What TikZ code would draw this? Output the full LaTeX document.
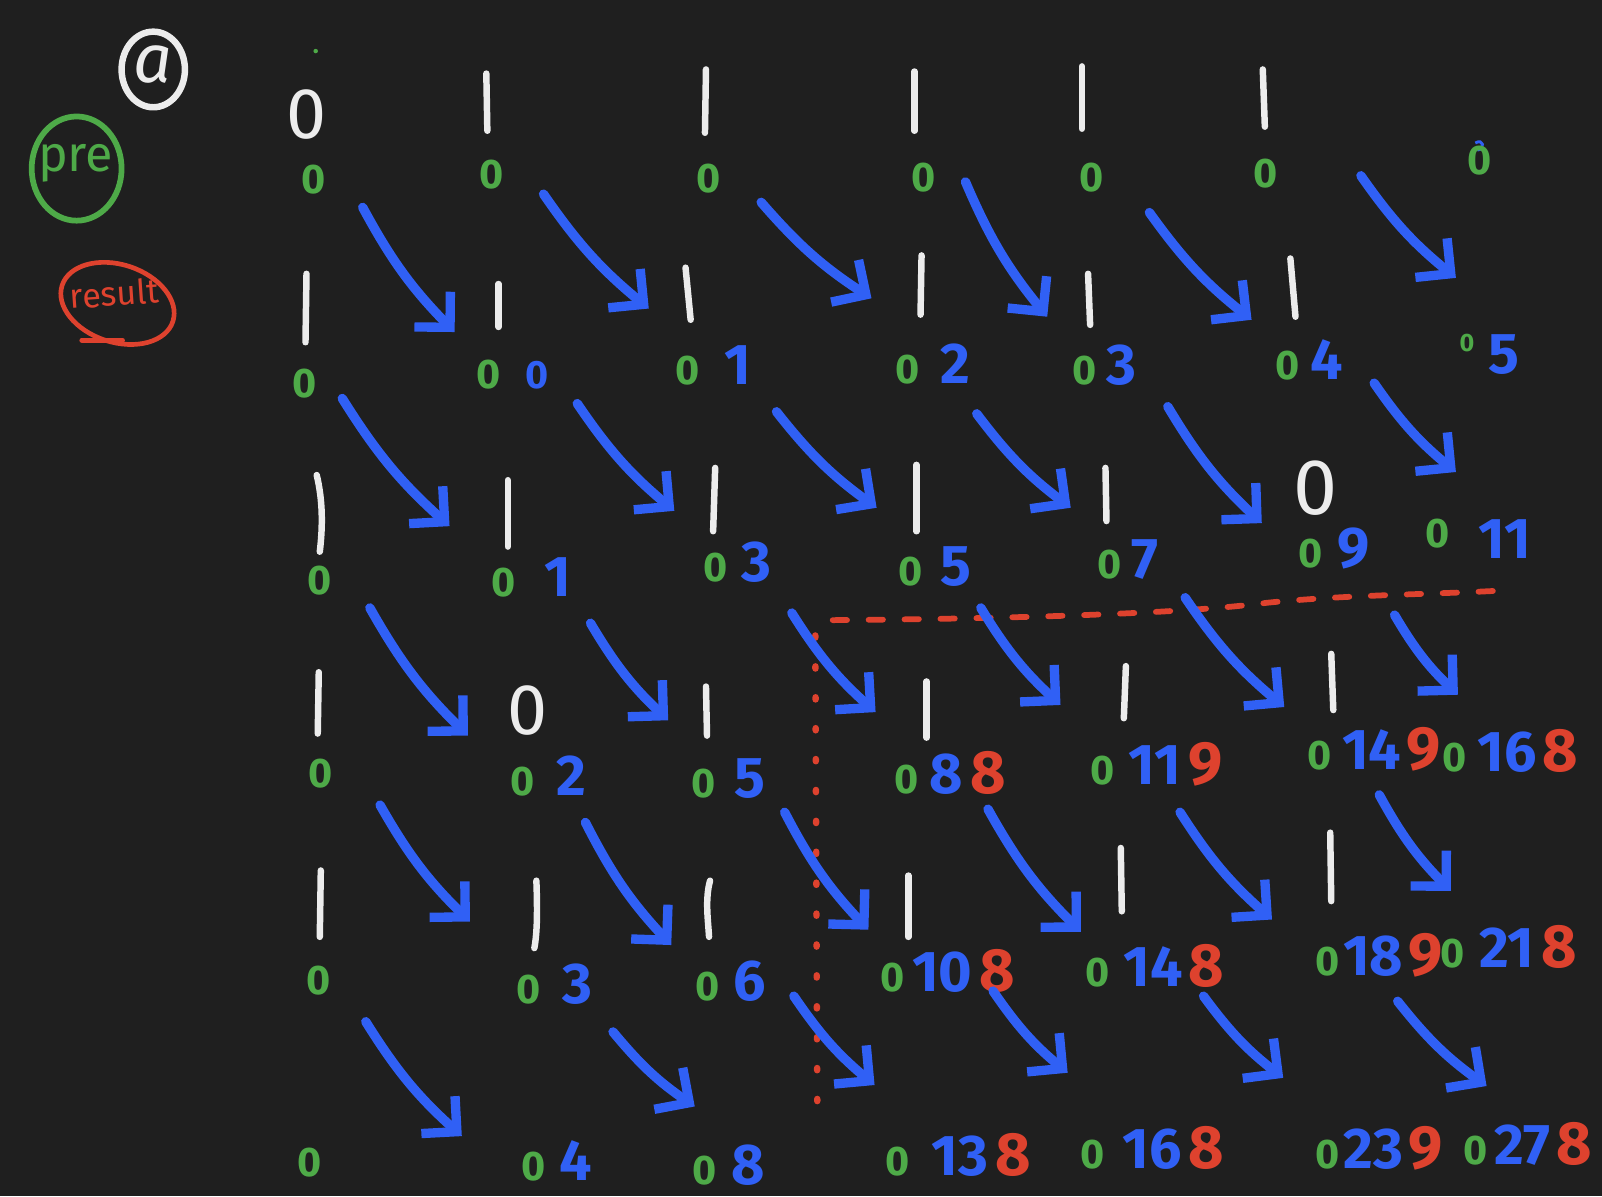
\documentclass[tikz,border=0pt]{standalone}
\usepackage{fontspec}
\setmainfont{Fira Sans}
\usetikzlibrary{arrows.meta,shapes.geometric}
\definecolor{bgc}{HTML}{1F1F1F}
\definecolor{wht}{HTML}{ECECEC}
\definecolor{grn}{RGB}{78,170,72}
\definecolor{blu}{RGB}{48,96,245}
\definecolor{rdc}{RGB}{222,66,46}
\newcommand\LG[1]{{\color{grn}\fontsize{11.5}{11.5}\selectfont\bfseries #1}}
\newcommand\LB[1]{{\color{blu}\fontsize{16}{16}\selectfont\bfseries #1}}
\newcommand\LR[1]{{\color{rdc}\fontsize{17}{17}\selectfont\bfseries #1}}
\tikzset{
  bar/.style={draw=wht, line width=1.8pt, line cap=round},
  wz/.style={text=wht, font=\fontsize{20}{20}\selectfont, inner sep=0pt},
  lab/.style={inner sep=0pt},
  barrow/.style={draw=blu, line width=2.6pt, line cap=round, line join=round,
    -{Straight Barb[length=7pt,width=14pt]}},
  reddash/.style={draw=rdc, line width=1.6pt, line cap=round, dash pattern=on 4pt off 6pt},
  reddot/.style={draw=rdc, line width=1.8pt, line cap=round, dash pattern=on 0.6pt off 8pt},
}
\begin{document}
\begin{tikzpicture}[x=0.01cm,y=-0.01cm]
\fill[bgc] (0,0) rectangle (1568,1171);
\useasboundingbox (0,0) rectangle (1568,1171);

% legend
\node[text=wht, inner sep=0pt, font=\fontsize{19}{19}\selectfont\itshape] (tagA) at (150,63) {a};
\draw[wht, line width=1.8pt] (150,68) ellipse (31 and 37);
\node[text=grn, inner sep=0pt, font=\fontsize{14}{14}\selectfont] (tagPre) at (74,160) {pre};
\draw[grn, line width=1.6pt] (75,165) ellipse (44 and 51);
\node[text=rdc, inner sep=0pt, font=\fontsize{9.5}{9.5}\selectfont, rotate=4] (tagRes) at (112,287) {result};
\draw[rdc, line width=1.3pt, rotate around={-18:(115,297)}] (115,297) ellipse (57 and 38);
\draw[rdc, line width=1.3pt, line cap=round] (80,333) -- (120,333);

% small marks
\fill[grn] (309,50) circle (2.2);
\draw[blu, line width=0.8pt] (1444,140) .. controls (1452,135) and (1454,146) .. (1446,147);

% row 0 (white)
\node[wz] (w00) at (300,112) {0};
\draw[bar] (476,72) -- (477,128);
\draw[bar] (691,68) -- (690,130);
\draw[bar] (895,70) -- (895,128);
\draw[bar] (1059,65) -- (1059,126);
\draw[bar] (1236,68) -- (1238,124);
% row 1
\draw[bar] (300,268) -- (299,335);
\draw[bar] (488,278) -- (488,320);
\draw[bar] (671,262) -- (676,313);
\draw[bar] (902,250) -- (901,308);
\draw[bar] (1065,268) -- (1067,318);
\draw[bar] (1263,253) -- (1268,310);
% row 2
\draw[bar] (310,465) .. controls (316,490) and (316,515) .. (313,540);
\draw[bar] (497,470) -- (497,535);
\draw[bar] (700,458) -- (698,520);
\draw[bar] (897,455) -- (897,520);
\draw[bar] (1082,458) -- (1083,510);
\node[wz, font=\fontsize{22}{22}\selectfont] (w25) at (1288,478) {0};
% row 3
\draw[bar] (312,658) -- (311,718);
\node[wz] (w31) at (516,695) {0};
\draw[bar] (691,672) -- (692,720);
\draw[bar] (907,667) -- (907,722);
\draw[bar] (1102,652) -- (1100,703);
\draw[bar] (1303,640) -- (1305,695);
% row 4
\draw[bar] (314,852) -- (313,917);
\draw[bar] (525,862) .. controls (526,890) and (526,912) .. (523,928);
\draw[bar] (695,862) .. controls (690,880) and (693,900) .. (694,917);
\draw[bar] (889,857) -- (889,917);
\draw[bar] (1097,830) -- (1098,892);
\draw[bar] (1302,815) -- (1303,882);

% labels row 0
\node[lab] (l00) at (307,176) {\LG{0}};
\node[lab] (l01) at (481,171) {\LG{0}};
\node[lab] (l02) at (694,175) {\LG{0}};
\node[lab] (l03) at (904,174) {\LG{0}};
\node[lab] (l04) at (1068,174) {\LG{0}};
\node[lab] (l05) at (1239,170) {\LG{0}};
\node[lab] (l06) at (1448,157) {\LG{0}};
% row 1
\node[lab] (l10) at (298,375) {\LG{0}};
\node[lab] (l11) at (502,367) {\LG{0}\hspace{7pt}{\color{blu}\fontsize{11}{11}\selectfont\bfseries 0}};
\node[lab] (l12) at (698,358) {\LG{0}\hspace{7pt}\LB{1}};
\node[lab] (l13) at (913,356) {\LG{0}\hspace{6pt}\LB{2}};
\node[lab] (l14) at (1081,357) {\LG{0}\hspace{3pt}\LB{3}};
\node[lab] (l15) at (1281,352) {\LG{0}\hspace{3pt}\LB{4}};
\node[lab] (l16) at (1458,347) {\raisebox{6pt}{\color{grn}\fontsize{7}{7}\selectfont\bfseries 0}\hspace{4pt}\LB{5}};
% row 2
\node[lab] (l20) at (313,568) {\LG{0}};
\node[lab] (l21) at (520,565) {\LG{0}\hspace{8pt}\LB{1}};
\node[lab] (l22) at (722,550) {\LG{0}\hspace{4pt}\LB{3}};
\node[lab] (l23) at (915,555) {\LG{0}\hspace{5pt}\LB{5}};
\node[lab] (l24) at (1104,548) {\LG{0}\hspace{3pt}\LB{7}};
\node[lab] (l25) at (1306,537) {\LG{0}\hspace{4pt}\LB{9}};
\node[lab] (l26) at (1447,527) {\raisebox{3pt}{\LG{0}}\hspace{8pt}\LB{11}};
% row 3
\node[lab] (l30) at (314,757) {\LG{0}};
\node[lab] (l31) at (537,760) {\LG{0}\hspace{6pt}\LB{2}};
\node[lab] (l32) at (713,762) {\LG{0}\hspace{5pt}\LB{5}};
\node[lab] (l33) at (930,757) {\LG{0}\hspace{3pt}\LB{8}\hspace{2pt}\LR{8}};
\node[lab] (l34) at (1132,748) {\LG{0}\hspace{4pt}\LB{11}\hspace{2pt}\LR{9}};
\node[lab] (l35) at (1345,733) {\LG{0}\hspace{3pt}\LB{14}\hspace{1.5pt}\LR{9}};
\node[lab] (l36) at (1478,735) {\LG{0}\hspace{3pt}\LB{16}\hspace{1.5pt}\LR{8}};
% row 4
\node[lab] (l40) at (312,960) {\LG{0}};
\node[lab] (l41) at (543,963) {\LG{0}\hspace{6pt}\LB{3}};
\node[lab] (l42) at (715,960) {\LG{0}\hspace{4pt}\LB{6}};
\node[lab] (l43) at (928,950) {\LG{0}\hspace{2pt}\LB{10}\hspace{2pt}\LR{8}};
\node[lab] (l44) at (1130,945) {\LG{0}\hspace{4pt}\LB{14}\hspace{1.5pt}\LR{8}};
\node[lab] (l45) at (1350,935) {\LG{0}\hspace{1pt}\LB{18}\hspace{1.5pt}\LR{9}};
\node[lab] (l46) at (1477,927) {\LG{0}\hspace{4pt}\LB{21}\hspace{2pt}\LR{8}};
% row 5
\node[lab] (l50) at (303,1138) {\LG{0}};
\node[lab] (l51) at (545,1136) {\LG{0}\hspace{4pt}\LB{4}};
\node[lab] (l52) at (713,1140) {\LG{0}\hspace{4pt}\LB{8}};
\node[lab] (l53) at (938,1130) {\LG{0}\hspace{6pt}\LB{13}\hspace{2pt}\LR{8}};
\node[lab] (l54) at (1128,1124) {\LG{0}\hspace{5pt}\LB{16}\hspace{2pt}\LR{8}};
\node[lab] (l55) at (1350,1124) {\LG{0}\hspace{1pt}\LB{23}\hspace{1.5pt}\LR{9}};
\node[lab] (l56) at (1495,1120) {\LG{0}\hspace{2pt}\LB{27}\hspace{1.5pt}\LR{8}};

% red dividers
\coordinate (dh0) at (815,607);
\coordinate (dh1) at (1470,578);
\draw[reddash] (dh0) .. controls (950,606) and (1150,602) .. (1240,590)
  .. controls (1320,582) and (1400,582) .. (dh1);
\coordinate (dv0) at (798,622);
\coordinate (dv1) at (800,1095);
\draw[reddot] (dv0) -- (dv1);

% blue arrows
\foreach \i/\sx/\sy/\ex/\ey in {
 1/355/203/445/325, 2/532/190/635/302, 3/745/198/853/292, 4/945/178/1025/310,
 5/1125/208/1225/313, 6/1332/172/1425/272,
 7/335/390/440/515, 8/565/395/660/500, 9/760/403/858/497, 10/956/405/1048/497,
 11/1143/398/1235/512, 12/1345/375/1425/462,
 13/362/595/458/720, 14/578/610/654/705, 15/775/600/857/697, 16/960/595/1038/690,
 17/1160/585/1257/692, 18/1365/602/1427/680,
 19/372/788/460/902, 20/573/805/657/925, 21/768/795/850/910, 22/967/792/1058/912,
 23/1155/795/1245/900, 24/1350/778/1420/872,
 25/358/1000/452/1112, 26/600/1010/680/1083, 27/777/975/856/1062, 28/972/970/1045/1050,
 29/1178/975/1256/1055, 30/1368/980/1455/1063}
{
  \coordinate (as\i) at (\sx,\sy);
  \coordinate (ae\i) at (\ex,\ey);
  \draw[barrow] (as\i) to[bend right=8] (ae\i);
}
\end{tikzpicture}
\end{document}
